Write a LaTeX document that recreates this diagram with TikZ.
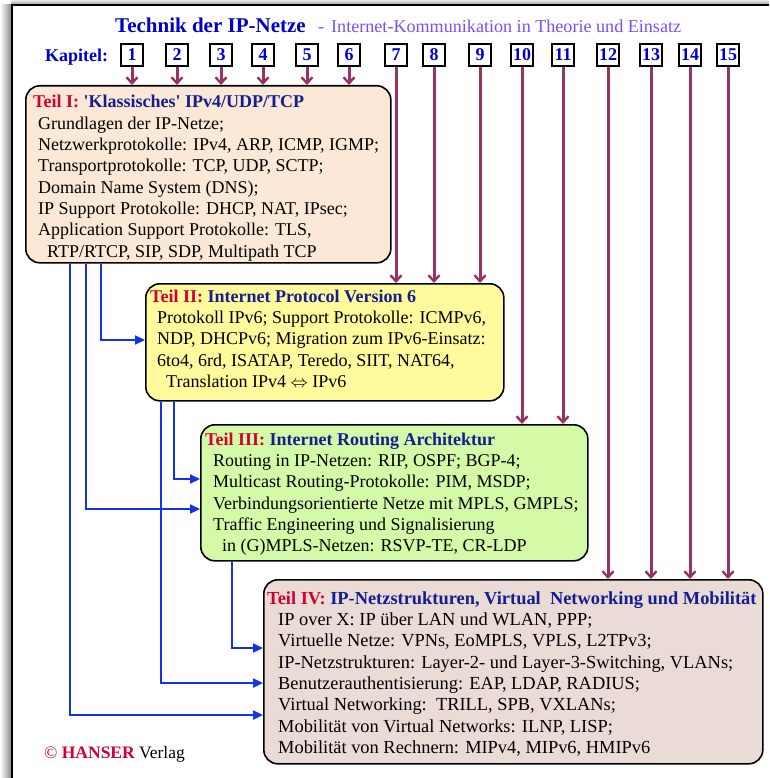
\documentclass[tikz,border=0pt]{standalone}
\usepackage{fontspec}
\setmainfont{Liberation Serif}
\usetikzlibrary{arrows.meta}

\definecolor{headblue}{RGB}{0,0,205}
\definecolor{subviolet}{RGB}{120,80,255}
\definecolor{teilred}{RGB}{210,0,50}
\definecolor{teilnavy}{RGB}{20,30,145}
\definecolor{maroon}{RGB}{150,50,100}
\definecolor{linkblue}{RGB}{20,50,230}
\definecolor{fillone}{RGB}{251,232,214}
\definecolor{filltwo}{RGB}{255,250,155}
\definecolor{fillthree}{RGB}{212,250,168}
\definecolor{fillfour}{RGB}{234,219,214}

\begin{document}
\begin{tikzpicture}[x=1pt,y=-1pt,
  chapbox/.style={draw=black, line width=1.6pt, fill=white, minimum width=22pt,
    minimum height=22pt, inner sep=0pt, text=headblue,
    font=\fontsize{18}{20}\selectfont\bfseries},
  partbox/.style={draw=black, line width=1.6pt, rounded corners=14pt,
    anchor=north west, inner sep=0pt},
  bodytxt/.style={anchor=north west, inner sep=0pt, align=left,
    font=\fontsize{18}{21.3}\selectfont},
  downarrow/.style={draw=maroon, line width=3pt,
    -{Straight Barb[length=6pt,width=11pt,line width=2.4pt]}},
  feedarrow/.style={draw=linkblue, line width=2.2pt,
    -{Triangle[length=10pt,width=9pt]}}
]
\useasboundingbox (0,0) rectangle (769,778);
\fill[white] (0,0) rectangle (769,778);

% page frame with its shadow
\shade[left color=white, right color=black!45] (0,5) rectangle (11,778);
\shade[top color=black!8, bottom color=black!35] (11,0) rectangle (769,4);
\draw[line width=2pt] (12,778) -- (12,5) -- (769,5);

% heading
\node[anchor=base west, inner sep=0pt, text=headblue,
  font=\fontsize{21}{24}\selectfont\bfseries] (title) at (115,33) {Technik der IP-Netze};
\node[anchor=base west, inner sep=0pt, text=subviolet,
  font=\fontsize{18.1}{21}\selectfont] (subtitle) at (318,33)
  {-\hspace{7pt}Internet-Kommunikation in Theorie und Einsatz};
\node[anchor=base west, inner sep=0pt, text=headblue,
  font=\fontsize{18}{21}\selectfont\bfseries] (kapitel) at (45,62) {Kapitel:};

% chapter boxes
\foreach \n/\x in {1/132,2/177,3/221,4/263,5/307,6/349,7/396,8/434,9/480,
                   10/522,11/563,12/608,13/651,14/690,15/728}
  \node[chapbox] (c\n) at (\x,55) {\n};

% the four parts
\node[partbox, fill=fillone,   minimum width=365pt, minimum height=177pt] (t1) at (25,85) {};
\node[partbox, fill=filltwo,   minimum width=358pt, minimum height=117pt] (t2) at (145,283) {};
\node[partbox, fill=fillthree, minimum width=387pt, minimum height=136pt] (t3) at (200,424) {};
\node[partbox, fill=fillfour,  minimum width=499pt, minimum height=184pt] (t4) at (263,579) {};

\node[bodytxt] (t1txt) at (33,93.7) {\rule{0pt}{14pt}%
  {\bfseries\color{teilred}Teil I:} {\bfseries\color{teilnavy}\textquotesingle Klassisches\textquotesingle{} IPv4/UDP/TCP}\\
  \hspace*{5pt}Grundlagen der IP-Netze;\\
  \hspace*{5pt}Netzwerkprotokolle: IPv4, ARP, ICMP, IGMP;\\
  \hspace*{5pt}Transportprotokolle: TCP, UDP, SCTP;\\
  \hspace*{5pt}Domain Name System (DNS);\\
  \hspace*{5pt}IP Support Protokolle: DHCP, NAT, IPsec;\\
  \hspace*{5pt}Application Support Protokolle: TLS,\\
  \hspace*{14pt}RTP/RTCP, SIP, SDP, Multipath TCP};

\node[bodytxt] (t2txt) at (150,288) {\rule{0pt}{14pt}%
  {\bfseries\color{teilred}Teil II:} {\bfseries\color{teilnavy}Internet Protocol Version 6}\\
  \hspace*{7pt}Protokoll IPv6; Support Protokolle: ICMPv6,\\
  \hspace*{7pt}NDP, DHCPv6; Migration zum IPv6-Einsatz:\\
  \hspace*{7pt}6to4, 6rd, ISATAP, Teredo, SIIT, NAT64,\\
  \hspace*{16pt}Translation IPv4 $\Leftrightarrow$ IPv6};

\node[bodytxt] (t3txt) at (205,431) {\rule{0pt}{14pt}%
  {\bfseries\color{teilred}Teil III:} {\bfseries\color{teilnavy}Internet Routing Architektur}\\
  \hspace*{8pt}Routing in IP-Netzen: RIP, OSPF; BGP-4;\\
  \hspace*{8pt}Multicast Routing-Protokolle: PIM, MSDP;\\
  \hspace*{8pt}Verbindungsorientierte Netze mit MPLS, GMPLS;\\
  \hspace*{8pt}Traffic Engineering und Signalisierung\\
  \hspace*{17pt}in (G)MPLS-Netzen: RSVP-TE, CR-LDP};

\node[bodytxt, font=\fontsize{18.4}{21.3}\selectfont] (t4txt) at (267,590) {\rule{0pt}{14pt}%
  {\bfseries\color{teilred}Teil IV:} {\bfseries\color{teilnavy}IP-Netzstrukturen, Virtual\ \ Networking und Mobilität}\\
  \hspace*{11pt}IP over X: IP über LAN und WLAN, PPP;\\
  \hspace*{11pt}Virtuelle Netze: VPNs, EoMPLS, VPLS, L2TPv3;\\
  \hspace*{11pt}IP-Netzstrukturen: Layer-2- und Layer-3-Switching, VLANs;\\
  \hspace*{11pt}Benutzerauthentisierung: EAP, LDAP, RADIUS;\\
  \hspace*{11pt}Virtual Networking:\ \ TRILL, SPB, VXLANs;\\
  \hspace*{11pt}Mobilität von Virtual Networks: ILNP, LISP;\\
  \hspace*{11pt}Mobilität von Rechnern: MIPv4, MIPv6, HMIPv6};

% chapters to parts
\foreach \n in {1,...,6}   \draw[downarrow] (c\n.south) -- (c\n.south |- t1.north);
\foreach \n in {7,8,9}     \draw[downarrow] (c\n.south) -- (c\n.south |- t2.north);
\foreach \n in {10,11}     \draw[downarrow] (c\n.south) -- (c\n.south |- t3.north);
\foreach \n in {12,...,15} \draw[downarrow] (c\n.south) -- (c\n.south |- t4.north);

% dependencies between parts
\draw[feedarrow] ([xshift=45pt]t1.south west) |- (t4.west |- 0,715);
\draw[feedarrow] ([xshift=61pt]t1.south west) |- (t3.west |- 0,509);
\draw[feedarrow] ([xshift=76pt]t1.south west) |- (t2.west |- 0,340);
\draw[feedarrow] ([xshift=16pt]t2.south west) |- (t4.west |- 0,683);
\draw[feedarrow] ([xshift=29pt]t2.south west) |- (t3.west |- 0,479);
\draw[feedarrow] ([xshift=32pt]t3.south west) |- (t4.west |- 0,648);

% publisher
\node[anchor=base west, inner sep=0pt, font=\fontsize{17.5}{20}\selectfont] (publisher) at (44,758)
  {{\color{teilred}\textcopyright\ \bfseries HANSER} Verlag};
\end{tikzpicture}
\end{document}
